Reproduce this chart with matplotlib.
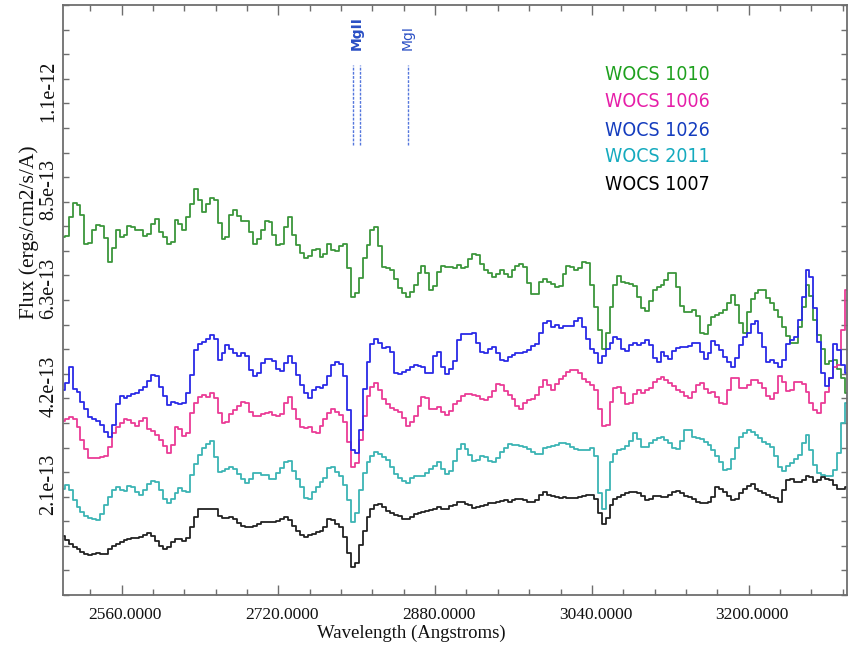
import numpy as np
import matplotlib
matplotlib.use("Agg")
import matplotlib.pyplot as plt
from matplotlib.ticker import FixedLocator, MultipleLocator
from matplotlib import transforms

# Wavelength grid (Angstroms) of the binned spectra
wavelength = np.arange(2500, 3301, 4)

# Flux in units of 1e-13 ergs/cm2/s/A
FLUX_UNIT = 1e-13
flux_1010 = [
    7.69, 7.72, 8.14, 8.44, 8.39, 8.17, 7.55, 7.58, 7.85, 7.96,
    7.94, 7.67, 7.17, 7.46, 7.85, 7.71, 7.74, 7.94, 7.92, 7.85,
    7.84, 7.72, 7.76, 7.98, 8.08, 7.81, 7.69, 7.55, 7.60, 8.06,
    7.98, 7.86, 8.14, 8.42, 8.74, 8.50, 8.24, 8.41, 8.53, 8.49,
    8.01, 7.65, 7.71, 8.17, 8.28, 8.15, 8.04, 8.05, 7.81, 7.56,
    7.66, 7.85, 8.05, 8.03, 7.74, 7.53, 7.56, 7.92, 8.12, 7.74,
    7.53, 7.36, 7.24, 7.29, 7.42, 7.45, 7.28, 7.33, 7.55, 7.42,
    7.39, 7.51, 7.56, 7.03, 6.42,
    6.49, 6.81, 7.24, 7.52, 7.85, 7.92, 7.51, 7.05, 7.03, 7.00,
    6.79, 6.60, 6.50, 6.42, 6.52, 6.67, 6.93, 7.08, 6.92, 6.57,
    6.65, 6.95, 7.08, 7.06, 7.05, 7.03, 7.10, 7.03, 7.06, 7.23,
    7.33, 7.31, 7.13, 7.00, 6.92, 6.83, 6.90, 6.98, 6.90, 6.85,
    7.00, 7.08, 7.13, 7.05, 6.70, 6.47, 6.47, 6.74, 6.79, 6.74,
    6.69, 6.63, 6.65, 6.90, 7.08, 7.05, 6.99, 7.03, 7.17, 7.15,
    6.67, 6.20, 5.70, 5.30, 5.63, 6.20, 6.67, 6.86,
    6.73, 6.70, 6.68, 6.65, 6.42, 6.17, 6.11, 6.33, 6.57, 6.63,
    6.66, 6.77, 6.92, 6.93, 6.63, 6.22, 6.09, 6.09, 6.14, 6.00,
    5.63, 5.61, 5.81, 5.97, 6.02, 6.07, 6.14, 6.27, 6.45, 6.24,
    5.84, 5.63, 6.09, 6.36, 6.49, 6.56, 6.56, 6.38, 6.29, 6.13,
    5.99, 5.76, 5.57, 5.43, 5.43, 5.77, 6.20, 6.67, 6.43, 5.91,
    5.59, 5.30, 4.97, 5.04, 5.05, 4.87, 4.66, 4.34]
flux_1006 = [
    3.74, 3.79, 3.82, 3.79, 3.62, 3.33, 3.13, 2.94, 2.94, 2.94,
    2.97, 3.00, 3.19, 3.49, 3.61, 3.69, 3.79, 3.77, 3.69, 3.64,
    3.75, 3.80, 3.58, 3.53, 3.44, 3.33, 3.20, 3.06, 3.23, 3.62,
    3.58, 3.43, 3.48, 3.92, 4.14, 4.25, 4.30, 4.26, 4.34, 4.23,
    3.91, 3.69, 3.73, 3.89, 3.98, 4.06, 4.16, 4.12, 3.94, 3.84,
    3.86, 3.89, 3.92, 3.94, 3.88, 3.85, 3.89, 4.14, 4.26, 4.01,
    3.78, 3.62, 3.59, 3.62, 3.51, 3.48, 3.64, 3.78, 3.91, 3.99,
    3.94, 3.87, 3.73, 3.30, 2.76,
    2.83, 3.33, 3.86, 4.28, 4.48, 4.57, 4.41, 4.22, 4.10, 4.02,
    3.97, 3.94, 3.81, 3.63, 3.73, 3.86, 4.06, 4.25, 4.24, 3.99,
    3.99, 4.04, 3.94, 3.87, 3.95, 4.11, 4.17, 4.28, 4.32, 4.32,
    4.31, 4.28, 4.22, 4.20, 4.25, 4.39, 4.54, 4.51, 4.39, 4.31,
    4.21, 4.06, 4.01, 4.12, 4.19, 4.22, 4.30, 4.47, 4.62, 4.52,
    4.42, 4.54, 4.65, 4.72, 4.79, 4.84, 4.84, 4.77, 4.65, 4.58,
    4.52, 4.42, 4.01, 3.63, 3.66, 4.16, 4.45, 4.48,
    4.34, 4.11, 4.14, 4.32, 4.42, 4.35, 4.41, 4.45, 4.58, 4.65,
    4.69, 4.62, 4.57, 4.50, 4.41, 4.36, 4.28, 4.23, 4.37, 4.52,
    4.55, 4.44, 4.34, 4.37, 4.25, 4.14, 4.11, 4.40, 4.67, 4.66,
    4.45, 4.45, 4.52, 4.62, 4.62, 4.57, 4.45, 4.28, 4.21, 4.34,
    4.70, 4.59, 4.38, 4.41, 4.59, 4.59, 4.54, 4.37, 4.14, 3.97,
    3.91, 4.12, 4.37, 4.66, 4.91, 4.95, 5.70, 6.56]
flux_1026 = [
    4.41, 4.55, 4.91, 4.44, 4.37, 4.16, 3.99, 3.83, 3.79, 3.74,
    3.65, 3.51, 3.39, 3.66, 4.11, 4.27, 4.24, 4.28, 4.32, 4.34,
    4.41, 4.48, 4.61, 4.73, 4.70, 4.47, 4.28, 4.09, 4.16, 4.14,
    4.10, 4.14, 4.34, 4.73, 5.28, 5.40, 5.45, 5.51, 5.59, 5.50,
    5.05, 5.21, 5.37, 5.30, 5.21, 5.14, 5.20, 5.14, 4.84, 4.71,
    4.78, 4.98, 5.07, 5.08, 5.03, 4.87, 4.82, 5.00, 5.13, 4.98,
    4.73, 4.52, 4.35, 4.24, 4.41, 4.47, 4.45, 4.52, 4.70, 4.95,
    5.01, 4.96, 4.70, 3.98, 3.12,
    3.05, 3.55, 4.44, 5.02, 5.40, 5.51, 5.41, 5.31, 5.34, 5.23,
    4.77, 4.75, 4.80, 4.85, 4.91, 4.94, 4.92, 4.90, 4.77, 4.77,
    5.14, 5.23, 4.91, 4.75, 4.87, 5.04, 5.48, 5.61, 5.61, 5.61,
    5.63, 5.41, 5.23, 5.20, 5.30, 5.33, 5.21, 5.05, 5.03, 5.11,
    5.16, 5.20, 5.20, 5.23, 5.28, 5.36, 5.40, 5.63, 5.84, 5.90,
    5.77, 5.81, 5.74, 5.79, 5.79, 5.79, 5.90, 5.95, 5.77, 5.50,
    5.30, 5.20, 5.00, 5.13, 5.30, 5.41, 5.54, 5.50,
    5.30, 5.25, 5.38, 5.43, 5.38, 5.41, 5.48, 5.37, 5.09, 5.01,
    5.23, 5.14, 5.07, 5.25, 5.32, 5.34, 5.34, 5.36, 5.43, 5.41,
    5.23, 5.07, 5.21, 5.47, 5.38, 5.28, 5.11, 5.02, 4.90, 5.09,
    5.37, 5.56, 5.64, 5.83, 5.89, 5.63, 5.34, 5.02, 5.06, 5.00,
    4.91, 5.06, 5.40, 5.48, 5.56, 5.91, 6.42, 6.99, 6.84, 6.17,
    5.45, 4.77, 4.49, 4.66, 5.40, 5.27, 4.95, 4.77]
flux_2011 = [
    2.29, 2.37, 2.26, 2.04, 1.89, 1.78, 1.69, 1.65, 1.64, 1.61,
    1.74, 1.94, 2.11, 2.26, 2.32, 2.26, 2.24, 2.34, 2.33, 2.22,
    2.16, 2.26, 2.38, 2.45, 2.42, 2.26, 2.06, 1.98, 2.07, 2.20,
    2.30, 2.24, 2.22, 2.58, 2.82, 3.01, 3.17, 3.25, 3.32, 2.97,
    2.65, 2.66, 2.70, 2.76, 2.72, 2.60, 2.49, 2.40, 2.50, 2.62,
    2.63, 2.59, 2.58, 2.50, 2.50, 2.63, 2.74, 2.85, 2.89, 2.67,
    2.49, 2.32, 2.08, 2.06, 2.22, 2.32, 2.44, 2.51, 2.73, 2.76,
    2.64, 2.55, 2.37, 2.04, 1.58,
    1.76, 2.26, 2.63, 2.87, 3.00, 3.08, 3.04, 2.96, 2.90, 2.75,
    2.60, 2.51, 2.45, 2.41, 2.51, 2.57, 2.56, 2.56, 2.63, 2.70,
    2.77, 2.86, 2.70, 2.60, 2.67, 2.88, 3.13, 3.24, 3.13, 3.02,
    2.89, 2.90, 2.98, 2.97, 2.88, 2.87, 2.94, 3.08, 3.17, 3.25,
    3.22, 3.22, 3.20, 3.18, 3.14, 3.08, 3.03, 3.04, 3.16, 3.19,
    3.20, 3.23, 3.28, 3.28, 3.24, 3.18, 3.13, 3.12, 3.12, 3.12,
    3.16, 2.98, 2.19, 1.84, 2.26, 2.87, 3.03, 3.12,
    3.13, 3.21, 3.32, 3.48, 3.36, 3.18, 3.18, 3.28, 3.33, 3.38,
    3.40, 3.34, 3.26, 3.16, 3.15, 3.32, 3.55, 3.55, 3.40, 3.37,
    3.35, 3.30, 3.23, 3.11, 2.99, 2.86, 2.69, 2.70, 2.92, 3.17,
    3.39, 3.48, 3.55, 3.50, 3.44, 3.38, 3.30, 3.24, 3.18, 2.99,
    2.76, 2.67, 2.77, 2.84, 2.92, 3.01, 3.26, 3.44, 3.12, 2.79,
    2.63, 2.59, 2.56, 2.55, 2.69, 3.05, 3.69, 4.12]
flux_1007 = [
    1.27, 1.18, 1.10, 1.04, 1.00, 0.93, 0.89, 0.86, 0.89, 0.90,
    0.88, 0.88, 0.98, 1.06, 1.09, 1.15, 1.18, 1.21, 1.22, 1.22,
    1.25, 1.30, 1.33, 1.26, 1.17, 1.06, 1.00, 1.04, 1.13, 1.20,
    1.20, 1.16, 1.22, 1.46, 1.68, 1.86, 1.86, 1.86, 1.86, 1.84,
    1.70, 1.65, 1.65, 1.68, 1.64, 1.54, 1.49, 1.47, 1.47, 1.49,
    1.53, 1.56, 1.58, 1.58, 1.58, 1.60, 1.64, 1.68, 1.61, 1.48,
    1.38, 1.30, 1.25, 1.29, 1.32, 1.35, 1.38, 1.47, 1.63, 1.61,
    1.53, 1.46, 1.25, 0.90, 0.61,
    0.68, 1.08, 1.38, 1.67, 1.84, 1.93, 1.96, 1.89, 1.81, 1.76,
    1.73, 1.69, 1.64, 1.63, 1.68, 1.74, 1.76, 1.78, 1.80, 1.83,
    1.86, 1.89, 1.85, 1.86, 1.91, 1.94, 1.99, 1.99, 1.96, 1.94,
    1.88, 1.89, 1.92, 1.94, 1.97, 1.97, 1.99, 2.02, 2.04, 2.01,
    2.04, 2.07, 2.07, 2.04, 2.01, 2.01, 2.05, 2.16, 2.22, 2.16,
    2.14, 2.10, 2.08, 2.11, 2.09, 2.08, 2.09, 2.11, 2.14, 2.15,
    2.15, 2.06, 1.76, 1.52, 1.65, 1.94, 2.06, 2.11,
    2.16, 2.19, 2.22, 2.22, 2.19, 2.13, 2.04, 2.07, 2.12, 2.14,
    2.11, 2.11, 2.16, 2.22, 2.24, 2.20, 2.14, 2.11, 2.06, 2.00,
    1.97, 1.97, 2.01, 2.11, 2.32, 2.29, 2.22, 2.14, 2.04, 2.06,
    2.19, 2.29, 2.34, 2.39, 2.29, 2.23, 2.19, 2.15, 2.11, 2.08,
    2.01, 2.26, 2.47, 2.49, 2.44, 2.44, 2.47, 2.56, 2.53, 2.43,
    2.47, 2.54, 2.50, 2.47, 2.37, 2.27, 2.29, 2.33]

star_names = ["WOCS 1010", "WOCS 1006", "WOCS 1026", "WOCS 2011", "WOCS 1007"]
line_colors = ["#3c963c", "#eb3c96", "#2a2ae6", "#3cb4b4", "#222222"]
text_colors = ["#1ea01e", "#e61ea8", "#143cbe", "#14aabe", "#000000"]
series = [flux_1010, flux_1006, flux_1026, flux_2011, flux_1007]

# Spectral line markers: MgII doublet and MgI
marker_waves = [2796.35, 2803.53, 2852.13]
marker_labels = ["MgII", "MgI"]
marker_label_waves = [2799.9, 2852.13]

x_ticks = [2560, 2720, 2880, 3040, 3200]
y_step = 2.115e-13
y_ticks = [y_step * k for k in range(1, 6)]
y_tick_labels = ["2.1e-13", "4.2e-13", "6.3e-13", "8.5e-13", "1.1e-12"]

fig = plt.figure(figsize=(8.49, 6.54), dpi=100)
ax = fig.add_axes([0.07397, 0.09021, 0.9233, 0.90214])

draw_order = [0, 1, 3, 4, 2]
for i in draw_order:
    ax.step(wavelength, np.asarray(series[i]) * FLUX_UNIT, where="mid",
            color=line_colors[i], lw=1.3, zorder=2 + i * 0.1)

ax.set_xlim(2500, 3300)
ax.set_ylim(0, 6 * y_step)

frame = "#6e6e6e"
for sp in ax.spines.values():
    sp.set_color(frame)
    sp.set_linewidth(1.3)

ax.xaxis.set_major_locator(FixedLocator(x_ticks))
ax.xaxis.set_minor_locator(MultipleLocator(32))
ax.yaxis.set_major_locator(FixedLocator(y_ticks))
ax.yaxis.set_minor_locator(MultipleLocator(y_step / 4))
ax.tick_params(which="both", direction="in", top=True, right=True,
               color=frame, width=1.0, labelbottom=False, labelleft=False)
ax.xaxis.set_tick_params(which="major", length=7.2)
ax.xaxis.set_tick_params(which="minor", length=4.3)
ax.yaxis.set_tick_params(which="both", length=4.3)

serif = "Liberation Serif"
xlab_tr = transforms.blended_transform_factory(ax.transData, ax.transAxes) + \
    transforms.ScaledTranslation(0.035, 0, fig.dpi_scale_trans)
for v in x_ticks:
    ax.text(v, -0.0339, f"{v:.4f}", transform=xlab_tr, ha="center", va="center",
            fontsize=12.5, family=serif, color="#111111", clip_on=False)

ylab_tr = transforms.blended_transform_factory(ax.transAxes, ax.transData) + \
    transforms.ScaledTranslation(0, 0.12, fig.dpi_scale_trans)
for v, lab in zip(y_ticks, y_tick_labels):
    ax.text(-0.0176, v, lab, transform=ylab_tr, ha="center", va="center",
            rotation=90, fontsize=14.5, family=serif, color="#111111",
            clip_on=False)

fig.text(0.4847, 0.031, "Wavelength (Angstroms)", ha="center", va="center",
         fontsize=13.5, family=serif, color="#111111")
fig.text(0.034, 0.645, "Flux (ergs/cm2/s/A)", ha="center", va="center",
         rotation=90, fontsize=15.5, family=serif, color="#111111")

# Line identifications
for wave in marker_waves:
    ax.axvline(wave, ymin=0.763, ymax=0.898, color="#5577dd", lw=1.0,
               linestyle=(0, (2, 1)), zorder=1)
lab_tr = transforms.blended_transform_factory(ax.transData, ax.transAxes)
for name, wave in zip(marker_labels, marker_label_waves):
    ax.text(wave, 0.9237, name, transform=lab_tr, rotation=90, ha="center",
            va="bottom", fontsize=10, color="#2a4fc4", family="DejaVu Sans",
            fontweight="bold" if name == "MgII" else "normal")

# Star legend
legend_y = [0.8814, 0.836, 0.788, 0.743, 0.695]
for name, col, yy in zip(star_names, text_colors, legend_y):
    ax.text(0.6916, yy, name, transform=ax.transAxes, ha="left", va="center",
            fontsize=14, color=col, family=["DejaVu Sans Condensed", "DejaVu Sans"],
            fontstretch="condensed")

fig.savefig("out.png", dpi=100)
